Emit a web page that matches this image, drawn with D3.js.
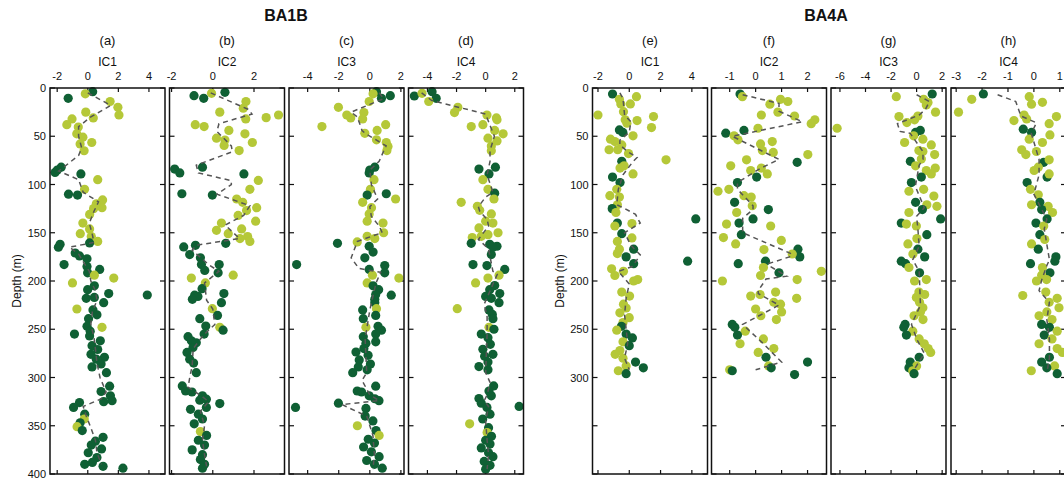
<!DOCTYPE html>
<html>
<head>
<meta charset="utf-8">
<script src="https://cdn.jsdelivr.net/npm/d3@7"></script>
<style>
    body { margin: 0; background: #fff; }
    text { font-family: "Liberation Sans", Arial, sans-serif; fill: #111; }
    .frame { fill: none; stroke: #111; stroke-width: 1.5; }
    .tick { stroke: #111; stroke-width: 1.2; }
    .trend { fill: none; stroke: #555; stroke-width: 1.5; stroke-dasharray: 5,4; }
</style>
</head>
<body>
<script>
//chart data: [depth (m), IC score, cluster (1 = dark, 0 = light)]
var ba1bIC1 = [[3.8,0.32,1],[6,-0.16,0],[10.7,-1.28,1],[14,1.46,0],[20,1.97,0],[28,2.04,0],[25,-0.13,0],[31,0.36,0],[32,-1.03,0],[38,-1.37,0],[40.5,-0.62,0],[47.5,-0.72,0],[51,-0.32,0],[58,-0.5,0],[56.5,0.26,0],[65,-0.24,0],
    [82,-1.74,1],[85,-1.99,1],[87.5,-2.14,1],[89,-0.45,1],[95,0.65,0],[105,-0.21,0],[110,-1.26,1],[111,-0.67,1],[116,0.97,0],[120,0.56,0],[124,0.93,0],[125,0.38,0],[131,0.12,0],[140,-0.32,0],[146,0.12,0],[151,-0.49,0],[154,0.23,0],[159,0.65,0],[160.5,0.12,1],[162,-1.81,1],
    [165,-1.92,1],[171,-0.82,1],[174,-0.54,1],[177,-0.05,1],[183,-1.55,1],[185,-0.05,1],[188,0.78,1],[191.5,-0.01,1],[194,0.43,0],[197,1.7,0],[202,-1.0,0],[205,0.43,1],[209,-0.01,1],[213,1.37,1],[214.5,3.89,1],[217,0.43,1],[218,-0.1,1],[222.5,1.04,1],
    [229,-0.71,0],[230,0.34,1],[235,0.6,1],[239,0.05,1],[247,-0.05,1],[248,0.93,0],[252,0.16,1],[255,-0.87,1],[257,0.12,1],[262,0.82,1],[267,0.28,1],[271,0.65,1],[276,0.21,1],[279,1.09,1],[281,0.56,1],[286,0.87,1],[289,0.28,1],[295,1.22,1],
    [309,1.43,1],[314.5,0.87,1],[319,1.48,1],[324,1.59,1],[325,1.04,1],[326,-0.54,1],[331,-0.93,1],[338,-0.2,1],[343,-0.23,0],[347,-0.5,1],[351,-0.7,0],[355,-0.36,1],[362,1.0,1],[366,0.5,1],[370,0.23,1],[374,0.9,1],[378,0.03,1],[383,0.6,1],[388,0.3,1],[390,-0.2,1],[392,1.0,1],[394,2.3,1]];

var ba1bIC2 = [[5.5,-0.06,0],[4.5,0.59,1],[8,-0.91,1],[10.7,-0.44,1],[14,1.61,0],[21,1.48,0],[25,0.34,0],[30.7,2.59,0],[28,3.19,0],[32,1.6,0],[38,-0.85,0],[40,-0.42,0],[44,0.78,0],[47.5,1.56,0],[52,0.18,0],[54,0.59,0],[56.5,1.92,0],[59.6,0.55,0],[64.8,1.28,0],
    [82,-0.5,1],[84,-1.85,1],[88,-1.6,1],[89,1.51,1],[95.8,2.21,0],[105,1.8,0],[109.6,-1.5,1],[111,-0.02,1],[115,1.16,0],[118.5,1.45,0],[124,2.13,0],[127,1.64,0],[132,1.23,0],[138,2.08,0],[140,0.42,0],[147.5,0.18,0],[146,1.4,0],[151,0.75,0],[156,1.32,0],[154,1.69,0],[159,1.8,0],
    [161,0.63,1],[163,-0.84,1],[164.7,-1.41,1],[172.6,-1.12,1],[176,-0.6,1],[183,-0.55,1],[183,0.31,1],[189,-0.39,1],[191.5,0.26,1],[197,-1.04,0],[194,0.99,0],[202,-0.36,0],[208,-0.52,1],[213,0.54,1],[214.7,-0.88,1],[216,-0.72,1],[219,-0.99,1],[222.5,0.42,1],
    [228.7,-0.02,0],[235.7,0.23,1],[239,-0.63,1],[246.7,-0.34,1],[248,0.34,0],[251,0.5,1],[255,-0.42,1],[257.7,-1.2,1],[262,-1.04,1],[264,-0.8,1],[269,-0.96,1],[274,-1.25,1],[281,-1.12,1],[285,-0.93,1],[295,-0.8,1],
    [308.7,-1.48,1],[314,-1.32,1],[315,-1.01,1],[319,-0.5,1],[322.5,-0.31,1],[323.5,-0.63,1],[327,0.34,1],[331,-0.31,1],[333,-1.08,1],[338,-0.7,1],[343,-0.5,1],[348,-0.9,1],[356,-0.6,0],[360,-0.3,1],[365,-0.7,1],[370,-0.4,1],[375,-1.0,1],[380,-0.5,1],[385,-0.6,1],[390,-0.4,1],[394,-0.5,1]];

var ba1bIC3 = [[3.8,0.43,1],[6,0.21,0],[10.7,0.75,1],[8,1.32,1],[14,-0.04,0],[20,-2.02,0],[25.5,-0.38,0],[28,-1.48,0],[31,-1.23,0],[32,-0.46,0],[40,-3.08,0],[38,1.02,0],[47,-0.32,0],[44,0.47,0],[53.7,0.43,0],[56.5,1.06,0],[60.6,1.17,0],[64.8,1.1,0],
    [82,0.32,1],[85,0.0,1],[88,-0.04,1],[95,0.27,0],[105,0.04,0],[109.6,1.06,1],[111,-0.17,1],[115,1.66,0],[118.5,-0.46,0],[124,0.11,0],[130.5,-0.04,0],[138,-0.17,0],[140,0.85,0],[150,0.89,0],[156,0.32,0],[153.7,-0.17,0],[159.5,-0.81,0],
    [161,-2.08,1],[164,-0.04,1],[170,0.21,1],[176,-0.32,1],[183,-4.71,1],[184,0.96,1],[188,-0.04,1],[191.5,0.96,1],[194,0.17,0],[197,1.87,0],[202,-0.17,0],[205,0.21,1],[209,0.57,1],[214,0.38,1],[214.7,1.38,1],[219,0.32,1],[222.5,0.32,1],
    [228.7,0.43,0],[230,-0.46,1],[235.7,0.38,1],[239,-0.42,1],[248,-0.25,0],[247,0.53,1],[251,0.75,1],[255,0.38,1],[257.7,-0.42,1],[263,0.38,1],[264.6,-0.25,1],[270,-0.38,1],[273.6,-0.89,1],[277,-0.11,1],[281.8,-0.68,1],[286,0.04,1],[289,-0.74,1],[292,-0.17,1],[295,-1.1,1],
    [309,0.38,1],[314,-0.81,1],[315,-0.53,1],[319,-0.04,1],[322,0.32,1],[324,0.59,1],[326.6,-2.02,1],[331,-4.78,1],[332,-0.25,1],[340,-0.3,1],[345,0.2,1],[350,-0.8,0],[355,0.4,1],[360,0.6,0],[364,-0.1,1],[368,0.3,1],[372,-0.4,1],[377,0.1,1],[382,0.6,1],[386,-0.2,1],[390,0.3,1],[394,0.8,1]];

var ba1bIC4 = [[8.3,-4.9,1],[5.5,-4.37,0],[3.8,-3.68,1],[10.7,-3.4,1],[14,-3.91,0],[20,-1.91,0],[25.5,-2.14,0],[28,0.09,0],[31,0.74,0],[33,0.78,0],[40,-0.99,0],[38,-0.19,0],[44,0.62,0],[47.5,1.2,0],[52,0.16,0],[54.8,0.78,0],[60,0.39,0],[65,0.39,0],
    [84,-0.46,1],[82,0.67,1],[89,0.23,1],[95,-0.19,0],[105,0.16,0],[109,0.62,1],[115,0.57,0],[118.5,-1.68,0],[122.6,-0.57,0],[126.8,-0.41,0],[130.5,0.39,0],[138,0.0,0],[140,0.5,0],[145,-0.46,0],[150,0.85,0],[152,0.16,0],[155,-0.92,0],[153.7,-0.3,0],
    [161,-0.99,1],[162,0.28,1],[164,0.78,1],[164.7,0.5,1],[172.6,0.39,1],[183,-0.87,1],[184,0.09,1],[188,1.31,1],[194,0.92,0],[197,0.16,0],[202,-0.69,0],[204.7,0.62,1],[209,0.28,1],[216,0.0,1],[213,0.97,1],[218,0.39,1],[222.5,0.92,1],
    [228.7,-1.95,0],[230,0.23,1],[234.6,0.46,1],[239,0.5,1],[248,0.23,0],[250,0.57,1],[255,-0.3,1],[258.7,0.16,1],[265.6,0.32,1],[270.8,-0.19,1],[276,0.5,1],[278,-0.07,1],[284,0.16,1],[288.7,-0.46,1],[292,0.16,1],
    [308.7,0.55,1],[314,0.23,1],[319,0.39,1],[321.8,-0.46,1],[326.6,-0.3,1],[331,0.09,1],[330,2.3,1],[338,0.3,1],[343,-0.2,1],[348,-1.1,0],[352,0.2,1],[357,0.1,0],[361,0.4,1],[365,0.0,1],[369,0.3,1],[373,-0.3,1],[378,0.2,1],[382,0.5,1],[387,-0.1,1],[391,0.3,1],[395,0.0,1]];

var ba4aIC1 = [[6.2,-1.07,1],[9,0.46,0],[11.7,-0.63,0],[16.5,0.07,0],[16.5,-0.54,0],[24.5,-0.37,0],[28,-2.0,0],[29.6,1.55,0],[33,-0.26,0],[33.8,0.5,0],[36.5,-0.15,0],[41,1.42,0],[43.4,-0.63,1],[46,-0.41,1],[49.6,0.24,0],[53,-1.2,0],[55.5,-0.92,0],[59,-0.48,0],[64,-1.29,0],[64,-0.74,0],[68,-0.05,0],
    [76,-0.48,1],[74.4,2.35,0],[83,-0.59,0],[80.6,-0.33,0],[89,0.24,0],[92.3,-1.07,1],[98,-0.59,1],[105,-0.8,0],[111.6,-1.24,0],[113,-0.63,0],[121,-0.76,0],[125,-1.09,1],[129,-0.85,0],[140,-0.76,1],[143,-0.92,0],[140.5,0.17,0],[135.7,4.25,1],
    [151,-0.48,1],[155.4,0.17,0],[159,-0.76,0],[167,0.28,1],[167,-0.63,0],[171.6,-0.76,0],[175,-0.2,1],[182,0.28,1],[179.5,3.73,1],[187.4,-1.13,0],[190,-0.37,0],[194.3,-0.92,0],[200,0.28,0],[198.5,0.54,0],[211.5,-0.48,0],[215.6,0.02,0],[224,-0.37,0],
    [228,-0.2,0],[233,-0.6,0],[238,0.0,0],[243,-0.4,0],[247,-0.5,1],[251,-0.8,0],[255,-0.2,1],[259,0.2,1],[263,-0.4,0],[267,0.0,1],[272,-0.6,0],[276,-0.9,0],[280,-0.4,0],[284,0.4,1],[288,-0.2,0],[290,0.9,1],[293,-0.7,0],[296,-0.2,1]];

var ba4aIC2 = [[6.2,-0.6,1],[9,-0.51,0],[11.7,0.96,0],[14,1.24,0],[16.8,0.55,0],[25,0.86,0],[28,0.22,0],[29,1.5,0],[33,2.28,0],[37,2.14,0],[41.7,0.09,0],[44,-0.45,1],[46.8,-1.15,1],[49.6,-0.83,0],[53.7,-0.68,0],[55.5,0.64,0],[58,0.19,0],[64.8,0.26,0],[66.8,0.68,0],[69,2.01,0],
    [77,1.6,1],[74.4,-0.35,0],[80.6,-0.96,0],[83,0.22,0],[85.5,-0.19,0],[89,0.45,0],[92.3,0.04,1],[98,-0.7,1],[107,-1.45,0],[105,-1.03,0],[111.6,-0.45,0],[113,-0.17,0],[118.5,-0.81,1],[122,-0.13,0],[126,0.49,1],[129,-0.73,0],[135.7,-0.1,1],[140,-0.64,1],[141,-1.12,0],[143,0.58,0],
    [152,-0.55,1],[155,-1.24,0],[161.6,-0.77,0],[158,0.99,0],[167.4,0.32,0],[167,1.63,1],[175,1.7,1],[172,1.41,0],[182,-0.67,1],[179.5,0.38,1],[186,0.3,0],[191.5,0.9,1],[194.3,0.19,0],[190,2.53,0],[198.5,1.6,0],[200,-1.28,0],[211.5,0.77,0],[214,0.17,0],[215.6,-0.19,0],[218,1.58,0],[222,0.7,0],[224,0.96,0],[229,0.0,0],
    [232,1.0,0],[236,0.2,0],[240,0.8,0],[245,-0.9,1],[248,-0.8,1],[252,-0.4,0],[256,-0.7,1],[260,0.3,0],[265,-0.6,0],[270,0.7,0],[274,0.1,0],[279,0.4,1],[284,2.0,1],[288,0.5,0],[290,0.6,1],[292,-1.0,0],[293,-0.9,1],[297,1.5,1]];

var ba4aIC3 = [[6.2,1.22,1],[9,-1.59,0],[11.7,0.55,0],[15,0.89,0],[17.6,0.76,0],[25,1.48,0],[41.7,-6.22,0],[29.6,-1.38,0],[35.8,-0.76,0],[29,0.1,0],[33,-0.16,0],[44,0.29,1],[46,-0.08,1],[49.6,-0.23,0],[53,0.49,0],[56.5,-0.94,0],[59,1.15,0],[64.8,0.18,0],[65.8,0.49,0],[69,1.41,0],
    [76,-0.49,1],[80.6,-0.08,0],[73.7,0.37,0],[83,1.46,0],[85.5,0.76,0],[89,1.15,0],[92.3,0.37,1],[98,-0.41,1],[107,-0.6,0],[105,0.55,0],[112,1.35,0],[118.5,-0.08,1],[121,0.8,0],[122.6,1.59,0],[126,0.45,1],[129,-0.6,0],[135.7,1.88,1],[140,-1.2,1],[141,-0.8,0],[143,-0.02,0],
    [152,0.8,1],[156,0.02,0],[161.6,-0.68,0],[167,0.1,1],[175,0.63,1],[172,-0.29,0],[179.5,-1.2,1],[182,-0.86,1],[186,-0.6,0],[191.5,0.23,1],[198.5,0.76,0],[200,-0.16,0],[211.5,0.18,0],[214,0.63,0],[217,-0.02,0],[222,0.23,0],[227.7,0.49,0],
    [232,0.3,0],[236,-0.2,0],[240,0.5,0],[245,-0.9,1],[248,-1.0,1],[252,-0.3,0],[256,-0.8,1],[260,0.2,0],[265,0.6,0],[270,0.9,0],[274,1.1,0],[279,0.2,1],[284,-0.5,1],[288,0.0,0],[290,-0.6,1],[293,-0.3,0],[296,-0.2,1]];

var ba4aIC4 = [[6.2,-1.95,1],[11.7,-2.4,0],[25,-2.91,0],[9,-0.18,0],[16.8,-0.09,0],[14.8,0.33,0],[28,-0.38,0],[33.8,-0.77,0],[32,-0.28,0],[37,0.59,0],[29.6,0.87,0],[42.7,-0.41,1],[46,-0.09,1],[53,-0.18,0],[56.5,0.33,0],[48.6,0.62,0],[64,-0.47,0],[69,-0.31,0],[65.8,0.1,0],
    [77,0.38,1],[74.4,0.59,0],[82,0.17,0],[85.5,0.01,0],[92.3,0.51,1],[89,0.59,0],[98,-0.26,1],[105,-0.13,0],[110.6,0.17,0],[118.5,0.23,1],[121,-0.09,0],[122.6,0.55,0],[126,0.3,1],[129,0.72,0],[135.7,0.51,1],[140,0.08,1],[143,0.38,0],
    [152,0.23,1],[157,0.42,0],[161.6,-0.09,0],[167,0.17,1],[175,0.85,1],[179.5,0.81,1],[182,-0.13,1],[186,0.33,0],[191.5,0.62,1],[194,0.3,0],[198.5,0.49,0],[200,0.1,0],[215,-0.43,0],[211.5,0.46,0],[218,0.9,0],[222,0.59,0],[227.7,0.97,0],
    [232,0.5,0],[236,0.2,0],[240,0.7,0],[245,0.3,1],[248,0.6,1],[252,0.9,0],[256,0.4,1],[260,0.7,0],[265,0.2,0],[270,0.9,0],[274,1.1,0],[279,0.6,1],[284,0.3,1],[288,0.8,0],[290,0.5,1],[293,-0.1,0],[296,0.9,1]];

//dashed trend lines: [depth (m), IC score]
var ba1bIC1Trend = [[5,0.0],[18,1.5],[30,0.2],[40,-0.6],[50,-0.6],[62,-0.4],[70,-0.6],[86,-1.9],[95,-0.6],[108,-0.3],[118,0.7],[128,0.4],[140,0.1],[152,0.3],[160,0.4],[165,-1.2],[172,-0.6],[180,-0.3],[190,0.1],[200,0.2],[210,0.5],[220,0.6],[232,0.3],[245,0.2],[258,0.4],[270,0.5],[285,0.6],[300,0.8],[315,1.2],[322,0.9],[330,-0.3],[340,-0.1],[352,0.2],[365,0.5],[378,0.6],[390,0.9]];
var ba1bIC2Trend = [[5,-0.1],[22,1.7],[27,1.9],[37,0.3],[45,0.2],[60,0.9],[66,0.95],[80,-0.8],[88,-0.7],[96,0.9],[100,0.9],[110,0.2],[122,1.8],[132,1.5],[142,0.6],[156,1.3],[163,-0.8],[168,-1.0],[183,-0.2],[190,0.3],[202,-0.4],[220,-0.3],[229,0.0],[245,0.1],[256,-0.45],[270,-0.95],[288,-1.0],[298,-1.1],[310,-1.2],[320,-0.5],[325,-0.2],[335,-0.6],[350,-0.4],[365,-0.5],[380,-0.4],[392,-0.3]];
var ba1bIC3Trend = [[5,0.6],[11,0.9],[25,-1.2],[30,-0.8],[44,-0.5],[47,-0.3],[60,1.05],[65,0.9],[76,0.6],[85,0.0],[100,0.1],[115,0.5],[123,0.0],[133,0.1],[143,0.6],[150,0.8],[152,0.4],[159,-0.8],[176,-1.2],[187,-0.7],[191,0.7],[202,0.4],[230,0.0],[260,-0.3],[295,-0.2],[303,-0.5],[318,0.0],[324,0.6],[328,-1.8],[340,-0.2],[360,0.2],[380,0.3],[395,0.2]];
var ba1bIC4Trend = [[5,-4.4],[13,-3.7],[27,0.0],[35,0.2],[50,0.6],[65,0.3],[76,0.3],[90,0.1],[108,0.5],[113,0.0],[123,-0.5],[128,-0.4],[136,0.1],[143,0.2],[157,-0.5],[161,-0.2],[167,0.2],[190,0.5],[193,0.8],[224,-0.1],[237,0.1],[255,0.1],[295,0.0],[305,0.3],[318,0.1],[324,-0.1],[330,0.2],[345,0.0],[365,0.1],[380,0.2],[395,0.1]];
var ba4aIC1Trend = [[5,-0.6],[11,-0.4],[28,-0.3],[35,0.1],[46,0.0],[54,-0.6],[59,-0.6],[66,-0.1],[72,0.5],[77,0.2],[90,-0.4],[105,-0.7],[121,-0.8],[124,-0.4],[131,0.4],[140,0.7],[150,-0.3],[163,0.1],[173,0.7],[185,0.2],[190,-0.7],[203,0.0],[218,-0.2],[235,-0.3],[250,-0.2],[265,-0.1],[280,-0.3],[292,0.0]];
var ba4aIC2Trend = [[7,-0.5],[16,0.9],[24,0.9],[35,1.8],[50,-0.9],[74,0.9],[83,0.2],[98,-0.7],[105,-0.7],[122,-0.1],[126,-0.1],[135,-0.5],[150,-0.5],[172,1.4],[175,1.3],[182,0.5],[184,0.5],[195,1.2],[198,0.4],[210,0.1],[213,0.1],[225,0.9],[245,-0.5],[265,0.3],[284,1.0],[292,0.0]];
var ba4aIC3Trend = [[7,0.0],[14,1.0],[22,0.7],[28,0.2],[37,-1.5],[45,-1.3],[47,-0.5],[66,0.5],[74,0.5],[80,0.2],[102,-0.1],[124,0.6],[133,0.0],[146,0.1],[164,0.2],[178,-0.3],[190,0.2],[225,0.3],[245,-0.4],[260,0.0],[275,0.6],[292,-0.2]];
var ba4aIC4Trend = [[7,-1.4],[14,-0.7],[29,-0.5],[36,0.1],[47,-0.1],[74,0.2],[90,0.2],[110,0.0],[136,0.5],[146,0.4],[178,0.6],[184,0.5],[199,0.3],[210,0.2],[222,0.6],[240,0.5],[260,0.6],[280,0.6],[295,0.5]];

//axis tick values and labels
var depthTicks = [0, 50, 100, 150, 200, 250, 300, 350, 400];
var wellNames = ["BA1B", "BA4A"];
var panelLetters = ["(a)", "(b)", "(c)", "(d)", "(e)", "(f)", "(g)", "(h)"];
var icNames = ["IC1", "IC2", "IC3", "IC4", "IC1", "IC2", "IC3", "IC4"];
var xTicks = [[-2, 0, 2, 4], [-2, 0, 2], [-4, -2, 0, 2], [-4, -2, 0, 2],
              [-2, 0, 2, 4], [-1, 0, 1, 2], [-6, -4, -2, 0, 2], [-3, -2, -1, 0, 1]];
var xDomains = [[-2.47, 5.05], [-2.1, 3.48], [-5.2, 2.2], [-5.3, 2.6],
                [-2.35, 5.0], [-1.7, 2.73], [-6.7, 2.3], [-3.2, 1.24]];

//begin script when window loads
window.onload = drawChart();

function drawChart(){
    var width = 1064,
        height = 483;

    var colors = ["#b5c838", "#0f6034"];

    var svg = d3.select("body")
        .append("svg")
        .attr("width", width)
        .attr("height", height);

    //panel frames, left edges in pixels
    var panelLeft = [50, 169.5, 289, 408.5, 592.5, 711.5, 831, 951],
        panelWidth = 115;

    var pointData = [ba1bIC1, ba1bIC2, ba1bIC3, ba1bIC4, ba4aIC1, ba4aIC2, ba4aIC3, ba4aIC4],
        trendData = [ba1bIC1Trend, ba1bIC2Trend, ba1bIC3Trend, ba1bIC4Trend,
                     ba4aIC1Trend, ba4aIC2Trend, ba4aIC3Trend, ba4aIC4Trend];

    //depth scale shared by all panels
    var y = d3.scaleLinear()
        .domain([0, 400])
        .range([88, 474]);

    //well titles
    svg.selectAll(".wellTitle")
        .data(wellNames)
        .enter()
        .append("text")
        .attr("class", "wellTitle")
        .attr("x", function(d, i){ return i == 0 ? 286 : 826; })
        .attr("y", 21)
        .attr("text-anchor", "middle")
        .style("font-size", "16px")
        .style("font-weight", "bold")
        .text(function(d){ return d; });

    //depth axis labels and ticks for each well
    [panelLeft[0], panelLeft[4]].forEach(function(left, w){
        var labels = w == 0 ? depthTicks : depthTicks.filter(function(d){ return d <= 300; });
        svg.selectAll(".depthLabel" + w)
            .data(labels)
            .enter()
            .append("text")
            .attr("class", "depthLabel" + w)
            .attr("x", left - 4)
            .attr("y", function(d){ return y(d) + 4; })
            .attr("text-anchor", "end")
            .style("font-size", "11px")
            .text(function(d){ return d; });

        svg.append("text")
            .attr("transform", "translate(" + (left - 29) + "," + y(200) + ") rotate(-90)")
            .attr("text-anchor", "middle")
            .style("font-size", "12px")
            .text("Depth (m)");
    });

    //draw each panel
    for (var p = 0; p < 8; p++){
        var left = panelLeft[p],
            right = left + panelWidth;

        var x = d3.scaleLinear()
            .domain(xDomains[p])
            .range([left, right]);

        var g = svg.append("g").attr("class", "panel");

        //panel letter and component name
        g.append("text")
            .attr("x", left + panelWidth / 2)
            .attr("y", 45)
            .attr("text-anchor", "middle")
            .style("font-size", "13px")
            .text(panelLetters[p]);
        g.append("text")
            .attr("x", left + panelWidth / 2)
            .attr("y", 66)
            .attr("text-anchor", "middle")
            .style("font-size", "12px")
            .text(icNames[p]);

        //x tick labels on top
        g.selectAll(".xLabel")
            .data(xTicks[p])
            .enter()
            .append("text")
            .attr("class", "xLabel")
            .attr("x", x)
            .attr("y", 80)
            .attr("text-anchor", "middle")
            .style("font-size", "11px")
            .text(function(d){ return d; });

        //x ticks, top and bottom, pointing inside
        g.selectAll(".xTickTop")
            .data(xTicks[p])
            .enter()
            .append("line")
            .attr("class", "tick")
            .attr("x1", x).attr("x2", x)
            .attr("y1", y(0)).attr("y2", y(0) + 4);
        g.selectAll(".xTickBottom")
            .data(xTicks[p])
            .enter()
            .append("line")
            .attr("class", "tick")
            .attr("x1", x).attr("x2", x)
            .attr("y1", y(400)).attr("y2", y(400) - 4);

        //depth ticks on both sides, pointing inside
        g.selectAll(".yTickLeft")
            .data(depthTicks)
            .enter()
            .append("line")
            .attr("class", "tick")
            .attr("x1", left).attr("x2", left + 5)
            .attr("y1", y).attr("y2", y);
        g.selectAll(".yTickRight")
            .data(depthTicks)
            .enter()
            .append("line")
            .attr("class", "tick")
            .attr("x1", right).attr("x2", right - 5)
            .attr("y1", y).attr("y2", y);

        //samples
        g.selectAll(".sample")
            .data(pointData[p])
            .enter()
            .append("circle")
            .attr("class", "sample")
            .attr("cx", function(d){ return x(d[1]); })
            .attr("cy", function(d){ return y(d[0]); })
            .attr("r", 4.6)
            .style("fill", function(d){ return colors[d[2]]; });

        //dashed trend line
        var line = d3.line()
            .x(function(d){ return x(d[1]); })
            .y(function(d){ return y(d[0]); });
        g.append("path")
            .datum(trendData[p])
            .attr("class", "trend")
            .attr("d", line);

        //frame
        g.append("rect")
            .attr("class", "frame")
            .attr("x", left)
            .attr("y", y(0))
            .attr("width", panelWidth)
            .attr("height", y(400) - y(0));
    };
};
</script>
</body>
</html>
